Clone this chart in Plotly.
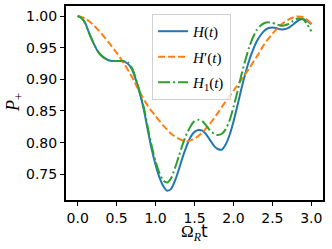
import plotly.graph_objects as go

# ---- data ----
t_H = [0, 0.05, 0.1, 0.15, 0.2, 0.25, 0.3, 0.35, 0.4, 0.45, 0.5, 0.55, 0.6, 0.65, 0.7,
       0.75, 0.8, 0.85, 0.9, 0.95, 1.0, 1.05, 1.1, 1.15, 1.2, 1.25, 1.3, 1.35, 1.4, 1.45,
       1.5, 1.55, 1.6, 1.65, 1.7, 1.75, 1.8, 1.85, 1.9, 1.95, 2.0, 2.05, 2.1, 2.15, 2.2,
       2.25, 2.3, 2.35, 2.4, 2.45, 2.5, 2.55, 2.6, 2.65, 2.7, 2.75, 2.8, 2.85, 2.9, 2.95, 3.0]
P_H = [1.000, 0.997, 0.988, 0.972, 0.958, 0.946, 0.938, 0.933, 0.930, 0.929, 0.929, 0.929,
       0.928, 0.924, 0.915, 0.898, 0.877, 0.852, 0.820, 0.790, 0.765, 0.745, 0.731, 0.724,
       0.727, 0.740, 0.758, 0.778, 0.795, 0.809, 0.817, 0.820, 0.819, 0.813, 0.804, 0.795,
       0.790, 0.789, 0.797, 0.812, 0.833, 0.858, 0.884, 0.908, 0.929, 0.946, 0.960, 0.970,
       0.977, 0.981, 0.982, 0.981, 0.979, 0.979, 0.981, 0.985, 0.990, 0.994, 0.995, 0.992, 0.987]

t_Hp = [0, 0.1, 0.2, 0.3, 0.4, 0.5, 0.6, 0.7, 0.8, 0.9, 1.0, 1.1, 1.2, 1.3, 1.4, 1.5, 1.6,
        1.7, 1.8, 1.9, 2.0, 2.1, 2.2, 2.3, 2.4, 2.5, 2.6, 2.7, 2.8, 2.9, 3.0]
P_Hp = [1.000, 0.996, 0.986, 0.973, 0.958, 0.942, 0.924, 0.903, 0.879, 0.858, 0.842, 0.827,
        0.814, 0.806, 0.802, 0.806, 0.816, 0.830, 0.847, 0.865, 0.882, 0.899, 0.917, 0.936,
        0.956, 0.972, 0.985, 0.994, 0.999, 0.998, 0.988]

t_H1 = t_H
P_H1 = [1.000, 0.997, 0.988, 0.972, 0.958, 0.946, 0.938, 0.933, 0.930, 0.929, 0.929, 0.929,
        0.929, 0.926, 0.917, 0.900, 0.879, 0.855, 0.824, 0.795, 0.770, 0.752, 0.740, 0.737,
        0.744, 0.760, 0.779, 0.798, 0.814, 0.826, 0.834, 0.836, 0.834, 0.827, 0.819, 0.814,
        0.812, 0.814, 0.821, 0.835, 0.856, 0.880, 0.906, 0.929, 0.950, 0.966, 0.978, 0.985,
        0.989, 0.990, 0.989, 0.987, 0.985, 0.985, 0.987, 0.991, 0.995, 0.996, 0.994, 0.986, 0.976]

x_ticks = [0.0, 0.5, 1.0, 1.5, 2.0, 2.5, 3.0]
x_tick_labels = ["0.0", "0.5", "1.0", "1.5", "2.0", "2.5", "3.0"]
y_ticks = [0.75, 0.80, 0.85, 0.90, 0.95, 1.00]
y_tick_labels = ["0.75", "0.80", "0.85", "0.90", "0.95", "1.00"]
x_title = '<span style="font-family:Liberation Serif">\u03a9<sub><i>R</i></sub></span>t'
y_title = "<i>P</i><sub>+</sub>"

MATH = "Liberation Serif"

fig = go.Figure()
fig.add_trace(go.Scatter(x=t_H, y=P_H, mode="lines", name="<i>H</i>(<i>t</i>)",
                         legendgroup="a",
                         line=dict(color="#1f77b4", width=2, shape="spline", smoothing=0.6)))
fig.add_trace(go.Scatter(x=t_Hp, y=P_Hp, mode="lines", name="<i>H</i>\u2032(<i>t</i>)",
                         legendgroup="b",
                         line=dict(color="#ff7f0e", width=2, dash="7px,3px", shape="spline", smoothing=0.6)))
fig.add_trace(go.Scatter(x=t_H1, y=P_H1, mode="lines", name="<i>H</i><sub>1</sub>(<i>t</i>)",
                         legendgroup="c",
                         line=dict(color="#2ca02c", width=2, dash="12px,3px,2px,3px", shape="spline", smoothing=0.6)))

fig.add_annotation(text=x_title, xref="paper", yref="paper", x=0.5, y=-0.168,
                   xanchor="center", yanchor="middle", showarrow=False,
                   font=dict(family="DejaVu Sans", size=17, color="black"))
fig.add_annotation(text=y_title, xref="paper", yref="paper", x=-0.202, y=0.5,
                   xanchor="center", yanchor="middle", showarrow=False, textangle=-90,
                   font=dict(family=MATH, size=18, color="black"))

fig.update_layout(
    width=332, height=249,
    margin=dict(l=66, r=9, t=6, b=49),
    paper_bgcolor="white", plot_bgcolor="white",
    font=dict(family="DejaVu Sans", size=14, color="black"),
    legend=dict(x=0.335, y=0.959, xanchor="left", yanchor="top",
                bgcolor="rgba(255,255,255,0.8)", bordercolor="#d0d0d0", borderwidth=1,
                font=dict(family=MATH, size=15, color="black"),
                traceorder="grouped", tracegroupgap=3, itemwidth=30),
    xaxis=dict(range=[-0.15, 3.15], tickvals=x_ticks, ticktext=x_tick_labels, automargin=False,
               showgrid=False, zeroline=False, showline=True, linecolor="black", linewidth=2,
               mirror=True, ticks="outside", ticklen=4, tickwidth=1.3, tickcolor="black",
               tickfont=dict(family="DejaVu Sans", size=14)),
    yaxis=dict(range=[0.7094, 1.0158], tickvals=y_ticks, ticktext=y_tick_labels, automargin=False,
               showgrid=False, zeroline=False, showline=True, linecolor="black", linewidth=2,
               mirror=True, ticks="outside", ticklen=4, tickwidth=1.3, tickcolor="black",
               tickfont=dict(family="DejaVu Sans", size=14)),
)

fig.write_html("out.html", config={"displayModeBar": False},
               post_script="document.body.style.margin='0';document.body.style.overflow='hidden';")
